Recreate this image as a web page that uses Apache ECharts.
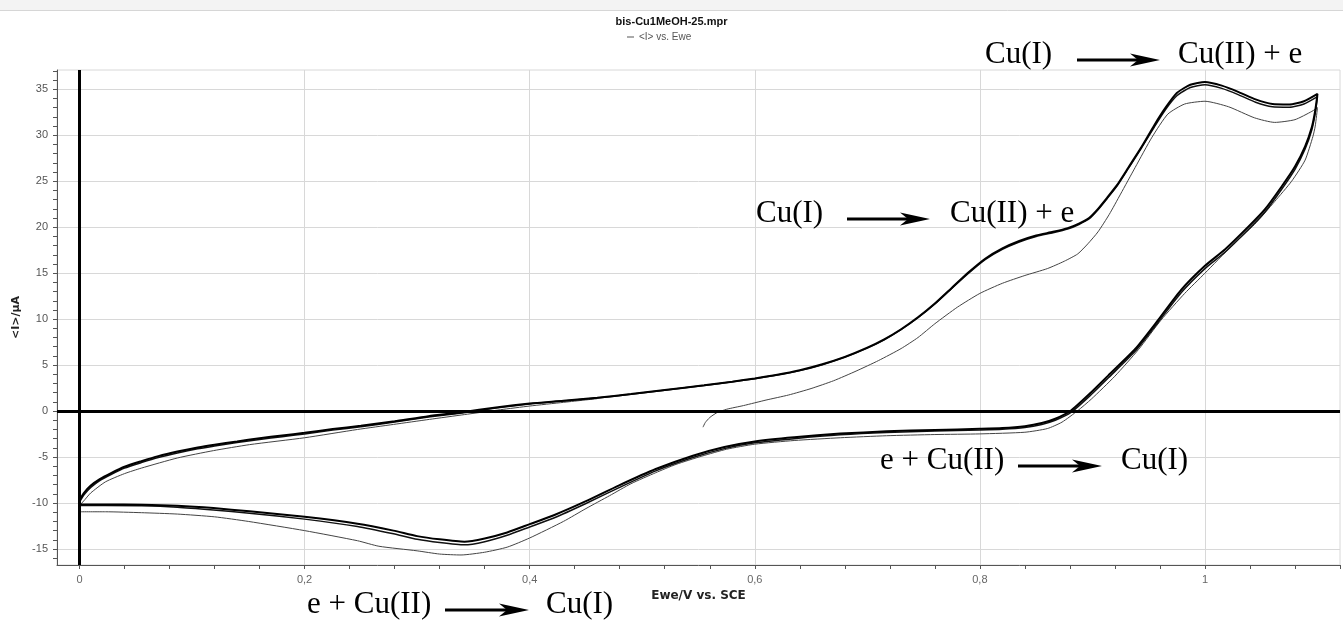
<!DOCTYPE html>
<html>
<head>
<meta charset="utf-8">
<script src="https://cdn.jsdelivr.net/npm/echarts@6/dist/echarts.min.js"></script>
<style>html,body{margin:0;padding:0;background:#fff}#c{width:1343px;height:622px}</style>
</head>
<body>
<div id="c"></div>
<script>
// ---- data: [E (V vs SCE), I (µA)] ----
const cycle1 = [
[0.554,-1.75],[0.556,-1.25],[0.560,-0.7],[0.566,-0.2],[0.575,0.2],[0.590,0.6],[0.610,1.2],[0.630,1.75],[0.650,2.45],[0.670,3.3],[0.690,4.35],[0.710,5.5],[0.730,6.8],[0.745,8.0],[0.760,9.5],[0.780,11.3],[0.800,12.8],[0.820,13.9],[0.840,14.75],[0.860,15.5],[0.875,16.3],[0.887,17.1],[0.896,18.2],[0.905,19.5],[0.915,21.4],[0.925,23.6],[0.938,26.5],[0.953,29.8],[0.967,32.3],[0.982,33.4],[1.000,33.7],[1.021,33.1],[1.044,31.9],[1.062,31.4],[1.080,31.7],[1.095,32.6],[1.100,33.0],
[1.098,31.0],[1.096,29.9],[1.089,27.3],[1.077,25.0],[1.062,22.8],[1.044,20.3],[1.024,18.0],[1.000,15.0],[0.982,12.8],[0.961,9.9],[0.941,6.7],[0.920,3.8],[0.899,1.3],[0.887,0.05],[0.873,-1.2],[0.860,-1.9],[0.840,-2.3],[0.800,-2.48],[0.760,-2.55],[0.717,-2.68],[0.676,-2.9],[0.635,-3.2],[0.600,-3.6],[0.575,-4.15],[0.553,-4.9],[0.530,-5.8],[0.512,-6.7],[0.490,-7.9],[0.471,-9.2],[0.450,-10.6],[0.430,-12.0],[0.400,-13.8],[0.380,-14.8],[0.360,-15.35],[0.339,-15.65],[0.320,-15.55],[0.300,-15.2],[0.266,-14.7],[0.247,-14.1],[0.200,-13.0],[0.150,-12.0],[0.120,-11.5],[0.087,-11.2],[0.055,-11.05],[0.023,-10.95],[0.000,-10.95],
[0.000,-10.4],[0.005,-9.6],[0.010,-8.9],[0.023,-7.7],[0.040,-6.8],[0.055,-6.2],[0.087,-5.1],[0.119,-4.3],[0.151,-3.65],[0.200,-2.9],[0.247,-2.0],[0.279,-1.45],[0.311,-0.9],[0.342,-0.38],[0.374,0.15],[0.400,0.55],[0.430,0.95],[0.460,1.35]
];
const cycle2 = [
[0.000,-9.7],[0.004,-8.9],[0.010,-8.1],[0.018,-7.4],[0.028,-6.75],[0.040,-6.05],[0.055,-5.45],[0.070,-4.9],[0.087,-4.4],[0.105,-3.95],[0.120,-3.65],[0.140,-3.3],[0.160,-2.95],[0.180,-2.65],[0.200,-2.36],[0.225,-1.95],[0.250,-1.6],[0.280,-1.1],[0.310,-0.55],[0.340,-0.12],[0.370,0.4],[0.400,0.82],[0.430,1.12],[0.460,1.45],[0.490,1.85],[0.520,2.3],[0.555,2.8],[0.580,3.2],[0.600,3.55],[0.620,3.95],[0.640,4.45],[0.660,5.1],[0.680,5.9],[0.700,6.9],[0.715,7.8],[0.730,8.9],[0.745,10.2],[0.760,11.7],[0.775,13.4],[0.790,15.1],[0.805,16.6],[0.820,17.7],[0.835,18.5],[0.850,19.1],[0.865,19.5],[0.878,19.9],[0.888,20.4],[0.897,21.0],[0.905,22.0],[0.913,23.2],[0.922,24.6],[0.932,26.5],[0.944,28.8],[0.955,31.1],[0.965,33.0],[0.975,34.6],[0.987,35.5],[1.000,35.8],[1.015,35.4],[1.030,34.7],[1.045,33.9],[1.060,33.4],[1.075,33.35],[1.088,33.7],[1.100,34.5],
[1.098,32.7],[1.095,30.9],[1.089,28.8],[1.080,26.6],[1.068,24.4],[1.053,21.9],[1.039,20.1],[1.018,17.6],[1.000,15.8],[0.979,13.2],[0.959,10.0],[0.938,6.75],[0.914,3.86],[0.899,2.06],[0.881,0.07],[0.867,-0.83],[0.855,-1.3],[0.840,-1.64],[0.820,-1.85],[0.800,-1.93],[0.760,-2.05],[0.717,-2.2],[0.676,-2.45],[0.635,-2.85],[0.600,-3.3],[0.573,-3.9],[0.545,-4.85],[0.512,-6.3],[0.479,-8.1],[0.450,-9.8],[0.422,-11.3],[0.400,-12.3],[0.380,-13.2],[0.360,-13.85],[0.342,-14.2],[0.320,-13.95],[0.300,-13.6],[0.279,-13.0],[0.247,-12.25],[0.200,-11.5],[0.151,-10.9],[0.119,-10.55],[0.087,-10.3],[0.055,-10.18],[0.023,-10.15],[0.000,-10.15]
];
const cycle3 = [
[0.000,-9.9],[0.004,-9.1],[0.010,-8.3],[0.018,-7.55],[0.028,-6.9],[0.040,-6.2],[0.055,-5.6],[0.070,-5.05],[0.087,-4.55],[0.105,-4.1],[0.120,-3.8],[0.140,-3.42],[0.160,-3.08],[0.180,-2.78],[0.200,-2.48],[0.225,-2.07],[0.250,-1.7],[0.280,-1.2],[0.310,-0.65],[0.340,-0.2],[0.370,0.33],[0.400,0.78],[0.430,1.1],[0.460,1.43],[0.490,1.83],[0.520,2.28],[0.555,2.78],[0.580,3.18],[0.600,3.52],[0.620,3.92],[0.640,4.4],[0.660,5.05],[0.680,5.85],[0.700,6.85],[0.715,7.75],[0.730,8.85],[0.745,10.15],[0.760,11.65],[0.775,13.35],[0.790,15.0],[0.805,16.5],[0.820,17.6],[0.835,18.4],[0.850,19.0],[0.865,19.4],[0.878,19.8],[0.888,20.3],[0.897,20.9],[0.905,21.9],[0.913,23.1],[0.922,24.5],[0.932,26.4],[0.944,28.7],[0.955,30.9],[0.965,32.8],[0.975,34.3],[0.987,35.2],[1.000,35.5],[1.015,35.1],[1.030,34.4],[1.045,33.6],[1.060,33.1],[1.075,33.05],[1.088,33.4],[1.100,34.2],
[1.098,32.4],[1.095,30.6],[1.089,28.5],[1.080,26.3],[1.068,24.1],[1.053,21.6],[1.039,19.8],[1.018,17.3],[1.000,15.5],[0.979,12.9],[0.959,9.75],[0.938,6.5],[0.914,3.6],[0.899,1.8],[0.881,-0.15],[0.867,-1.0],[0.855,-1.45],[0.840,-1.78],[0.820,-1.97],[0.800,-2.05],[0.760,-2.17],[0.717,-2.32],[0.676,-2.58],[0.635,-3.0],[0.600,-3.45],[0.573,-4.08],[0.545,-5.05],[0.512,-6.5],[0.479,-8.35],[0.450,-10.05],[0.422,-11.6],[0.400,-12.6],[0.380,-13.5],[0.360,-14.2],[0.342,-14.55],[0.320,-14.3],[0.300,-13.95],[0.279,-13.35],[0.247,-12.55],[0.200,-11.75],[0.151,-11.1],[0.119,-10.75],[0.087,-10.45],[0.055,-10.3],[0.023,-10.28],[0.000,-10.28]
];

// ---- axes: ticks, labels, grid lines ----
const xLabelValues = [0, 0.2, 0.4, 0.6, 0.8, 1];
const xGridValues = [0, 0.2, 0.4, 0.6, 0.8, 1];
const xTickValues = [0,0.04,0.08,0.12,0.16,0.2,0.24,0.28,0.32,0.36,0.4,0.44,0.48,0.52,0.56,0.6,0.64,0.68,0.72,0.76,0.8,0.84,0.88,0.92,0.96,1,1.04,1.08,1.12];
const yLabelValues = [-15,-10,-5,0,5,10,15,20,25,30,35];
const yGridValues = [-15,-10,-5,0,5,10,15,20,25,30,35];
const yTickValues = [-16,-15,-14,-13,-12,-11,-10,-9,-8,-7,-6,-5,-4,-3,-2,-1,0,1,2,3,4,5,6,7,8,9,10,11,12,13,14,15,16,17,18,19,20,21,22,23,24,25,26,27,28,29,30,31,32,33,34,35,36,37];
const xMin = -0.02, xMax = 1.12, yMin = -16.74, yMax = 37.1;

const titleText = 'bis-Cu1MeOH-25.mpr';
const legendName = '<I> vs. Ewe';
const xName = 'Ewe/V vs. SCE';
const yName = '<I>/µA';

// annotations: [left text, right text, text x left, arrow x1, arrow x2, right text x, y]
const annotations = [
  ['Cu(I)', 'Cu(II) + e', 985, 1077, 1160, 1178, 57],
  ['Cu(I)', 'Cu(II) + e', 756, 847, 930, 950, 216],
  ['e + Cu(II)', 'Cu(I)', 880, 1018, 1102, 1121, 463],
  ['e + Cu(II)', 'Cu(I)', 307, 445, 529, 546, 607]
];

const serif = '"Liberation Serif","Times New Roman",serif';
const sans = '"Liberation Sans",Arial,sans-serif';
const wide = '"DejaVu Sans",Verdana,sans-serif';

const graphics = [
  {type:'rect', shape:{x:0,y:0,width:1343,height:10}, style:{fill:'#f3f3f3'}, silent:true},
  {type:'line', shape:{x1:0,y1:10.5,x2:1343,y2:10.5}, style:{stroke:'#d6d6d6',lineWidth:1}, silent:true}
];
annotations.forEach(a => {
  const [t1, t2, tx1, ax1, ax2, tx2, y] = a;
  const ay = y + 3;
  graphics.push({type:'text', left:tx1, top:y-18, style:{text:t1, font:'31px ' + serif, fill:'#000'}, z:100});
  graphics.push({type:'text', left:tx2, top:y-18, style:{text:t2, font:'31px ' + serif, fill:'#000'}, z:100});
  graphics.push({type:'line', shape:{x1:ax1, y1:ay, x2:ax2-20, y2:ay}, style:{stroke:'#000', lineWidth:3}, z:100});
  graphics.push({type:'polygon', shape:{points:[[ax2,ay],[ax2-30,ay-6.5],[ax2-22,ay],[ax2-30,ay+6.5]]}, style:{fill:'#000'}, z:100});
});

const chart = echarts.init(document.getElementById('c'), null, {renderer:'canvas'});
chart.setOption({
  animation:false,
  backgroundColor:'#fff',
  title:{text:titleText, left:'center', top:11, textStyle:{fontFamily:sans, fontSize:11, fontWeight:'bold', color:'#111'}},
  legend:{data:[{name:legendName, icon:'rect'}], left:622, top:27, itemWidth:7, itemHeight:1, itemGap:5,
    itemStyle:{color:'#555'}, textStyle:{fontFamily:sans, fontSize:10, color:'#555'}},
  grid:{left:57, right:3, top:70, bottom:57, show:true, borderColor:'#d8d8d8', borderWidth:1, backgroundColor:'transparent'},
  xAxis:[
    {type:'value', min:xMin, max:xMax, position:'bottom',
     axisLine:{show:true, onZero:false, lineStyle:{color:'#555', width:1}},
     axisTick:{show:true, customValues:xTickValues, length:4, lineStyle:{color:'#555'}},
     axisLabel:{customValues:xLabelValues, formatter:v => String(v).replace('.', ','), color:'#666', fontSize:11, fontFamily:sans, margin:9},
     splitLine:{show:false},
     name:xName, nameLocation:'middle', nameGap:23,
     nameTextStyle:{fontFamily:wide, fontSize:12, fontWeight:'bold', color:'#222'}},
    {type:'value', min:xMin, max:xMax, position:'bottom',
     axisLine:{show:false, onZero:false}, axisTick:{show:false, customValues:xGridValues},
     axisLabel:{show:false}, splitLine:{show:true, lineStyle:{color:'#d8d8d8', width:1}}}
  ],
  yAxis:[
    {type:'value', min:yMin, max:yMax, position:'left',
     axisLine:{show:true, onZero:false, lineStyle:{color:'#555', width:1}},
     axisTick:{show:true, customValues:yTickValues, length:4, lineStyle:{color:'#555'}},
     axisLabel:{customValues:yLabelValues, color:'#555', fontSize:11, fontFamily:sans, margin:9},
     splitLine:{show:false},
     name:yName, nameLocation:'middle', nameGap:32,
     nameTextStyle:{fontFamily:wide, fontSize:11, fontWeight:'bold', color:'#222'}},
    {type:'value', min:yMin, max:yMax, position:'left',
     axisLine:{show:false, onZero:false}, axisTick:{show:false, customValues:yGridValues},
     axisLabel:{show:false}, splitLine:{show:true, lineStyle:{color:'#d8d8d8', width:1}}}
  ],
  series:[
    {name:'cycle 1', type:'line', data:cycle1, xAxisIndex:0, yAxisIndex:0, showSymbol:false, smooth:0.2,
     lineStyle:{color:'#444', width:1}, itemStyle:{color:'#444'}, z:3},
    {name:'cycle 3', type:'line', data:cycle3, xAxisIndex:0, yAxisIndex:0, showSymbol:false, smooth:0.2,
     lineStyle:{color:'#111', width:1.5}, itemStyle:{color:'#111'}, z:4},
    {name:legendName, type:'line', data:cycle2, xAxisIndex:0, yAxisIndex:0, showSymbol:false, smooth:0.2,
     lineStyle:{color:'#000', width:2}, itemStyle:{color:'#000'}, z:5,
     markLine:{silent:true, symbol:'none', label:{show:false}, animation:false,
       lineStyle:{color:'#000', width:3, type:'solid'},
       data:[{xAxis:0},{yAxis:0}]}}
  ],
  graphic:graphics
});
</script>
</body>
</html>
